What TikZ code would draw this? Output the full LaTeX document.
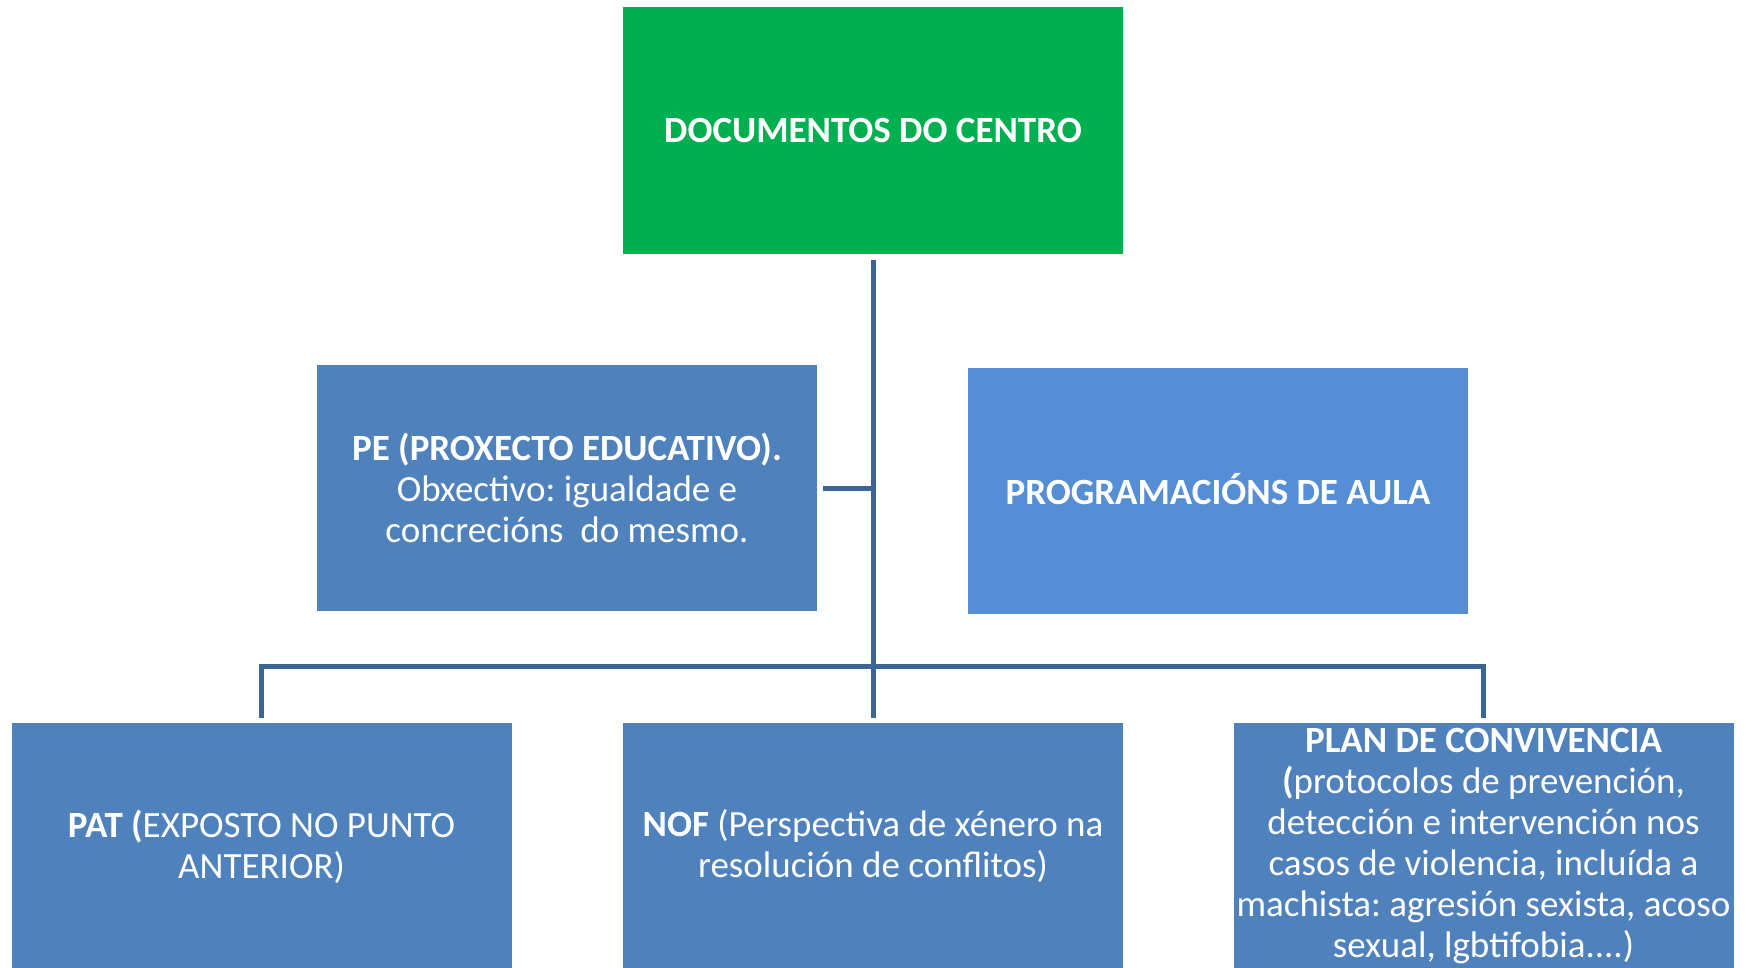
\documentclass[tikz,border=0pt]{standalone}
\usepackage{fontspec}
\setmainfont{Carlito}
\frenchspacing
\definecolor{cgreen}{HTML}{00B050}
\definecolor{cblue}{HTML}{4F81BD}
\definecolor{clight}{HTML}{558ED5}
\definecolor{cline}{HTML}{3C6597}
\begin{document}
\begin{tikzpicture}[x=1pt,y=-1pt,
  box/.style={fill=cblue, text=white, minimum width=500pt, minimum height=247pt,
    inner sep=0pt, align=center, font=\fontsize{37}{41}\selectfont},
  conn/.style={draw=cline, line width=5pt}]
\clip (0,0) rectangle (1750,967);
\useasboundingbox (0,0) rectangle (1750,967);
\fill[white] (0,0) rectangle (1750,967);
\node[box, fill=cgreen] (top) at (873,130.5) {\textbf{DOCUMENTOS DO CENTRO}};
\node[box, minimum height=246pt] (pe) at (567,488) {\textbf{PE (PROXECTO EDUCATIVO).}\\Obxectivo: igualdade e\\concrecións\ \ do mesmo.};
\node[box, fill=clight, minimum height=246pt] (prog) at (1218,491) {\raisebox{4pt}{\textbf{PROGRAMACIÓNS DE AULA}}};
\node[box] (pat) at (261.5,846.5) {\textbf{PAT (}EXPOSTO NO PUNTO\\ANTERIOR)};
\node[box] (nof) at (873,846.5) {\textbf{NOF} (Perspectiva de xénero na\\resolución de conflitos)};
\node[box] (plan) at (1483.5,846.5) {\textbf{PLAN DE CONVIVENCIA}\\\textbf{(}protocolos de prevención,\\detección e intervención nos\\casos de violencia, incluída a\\machista: agresión sexista, acoso\\sexual, lgbtifobia....)};
\draw[conn] ([yshift=-6pt]top.south) -- ([yshift=5pt]nof.north);
\draw[conn] ([xshift=6pt]pe.east) -- (pe.east -| top.south);
\draw[conn] ([yshift=5pt]pat.north) -- ++(0,-51) -| ([yshift=5pt]plan.north);
\end{tikzpicture}
\end{document}
